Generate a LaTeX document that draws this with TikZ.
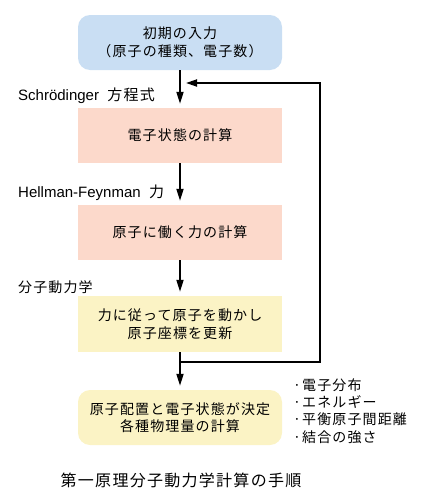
\documentclass[tikz,border=0pt]{standalone}
\usepackage{fontspec}
\setmainfont{Liberation Sans}
\newfontfamily\jp[LetterSpace=8]{Noto Sans CJK JP}
\usetikzlibrary{arrows.meta}
\definecolor{cblue}{HTML}{C9DEF3}
\definecolor{csalmon}{HTML}{FCD9CB}
\definecolor{cyellow}{HTML}{FBF3C5}
\begin{document}
\begin{tikzpicture}[x=1pt,y=-1pt,
  box/.style={minimum width=204pt, minimum height=55pt, inner sep=0pt, align=center,
    font=\jp\fontsize{14}{17.5}\selectfont},
  rbox/.style={box, rounded corners=12pt},
  flow/.style={line width=1.8pt, -{Triangle[length=12pt,width=7pt]}, shorten >=4pt},
  lbl/.style={inner sep=0pt, anchor=base west, font=\fontsize{15}{18}\selectfont},
  jlbl/.style={inner sep=0pt, anchor=west, font=\jp\fontsize{14}{17.5}\selectfont},
  lst/.style={inner sep=0pt, anchor=west, align=left, font=\jp\fontsize{14}{17.4}\selectfont}
]
\useasboundingbox (0,0) rectangle (421,498);
\node[rbox, fill=cblue] (b1) at (180,42.5) {初期の入力\\（原子の種類、電子数）};
\node[box, fill=csalmon] (b2) at (180,135.5) {電子状態の計算};
\node[box, fill=csalmon] (b3) at (180,232.5) {原子に働く力の計算};
\node[box, fill=cyellow, minimum height=56pt] (b4) at (180,324) {力に従って原子を動かし\\原子座標を更新};
\node[rbox, fill=cyellow] (b5) at (180,417.5) {原子配置と電子状態が決定\\各種物理量の計算};

\node[lbl] (l1) at (18,100) {Schrödinger \ {\jp 方程式}};
\node[lbl] (l2) at (18,197) {Hellman-Feynman \ {\jp 力}};
\node[jlbl] (l3) at (18,287) {分子動力学};

\node[lst] (list) at (293,411) {·電子分布\\·エネルギー\\·平衡原子間距離\\·結合の強さ};

\node[inner sep=0pt, font=\jp\fontsize{16}{19}\selectfont] (cap) at (181,480) {第一原理分子動力学計算の手順};

\draw[flow] (b1.south) -- (b2.north);
\draw[flow] (b2.south) -- (b3.north);
\draw[flow] (b3.south) -- (b4.north);
\draw[flow] (b4.south) -- (b5.north);
\coordinate (j) at (b4.south |- 0,362);
\coordinate (r1) at (320,362);
\coordinate (r2) at (320,83);
\coordinate (t) at (b1.south |- 0,83);
\draw[line width=1.8pt, -{Triangle[length=11pt,width=7pt]}, shorten >=6pt] (j) -- (r1) -- (r2) -- (t);
\end{tikzpicture}
\end{document}
